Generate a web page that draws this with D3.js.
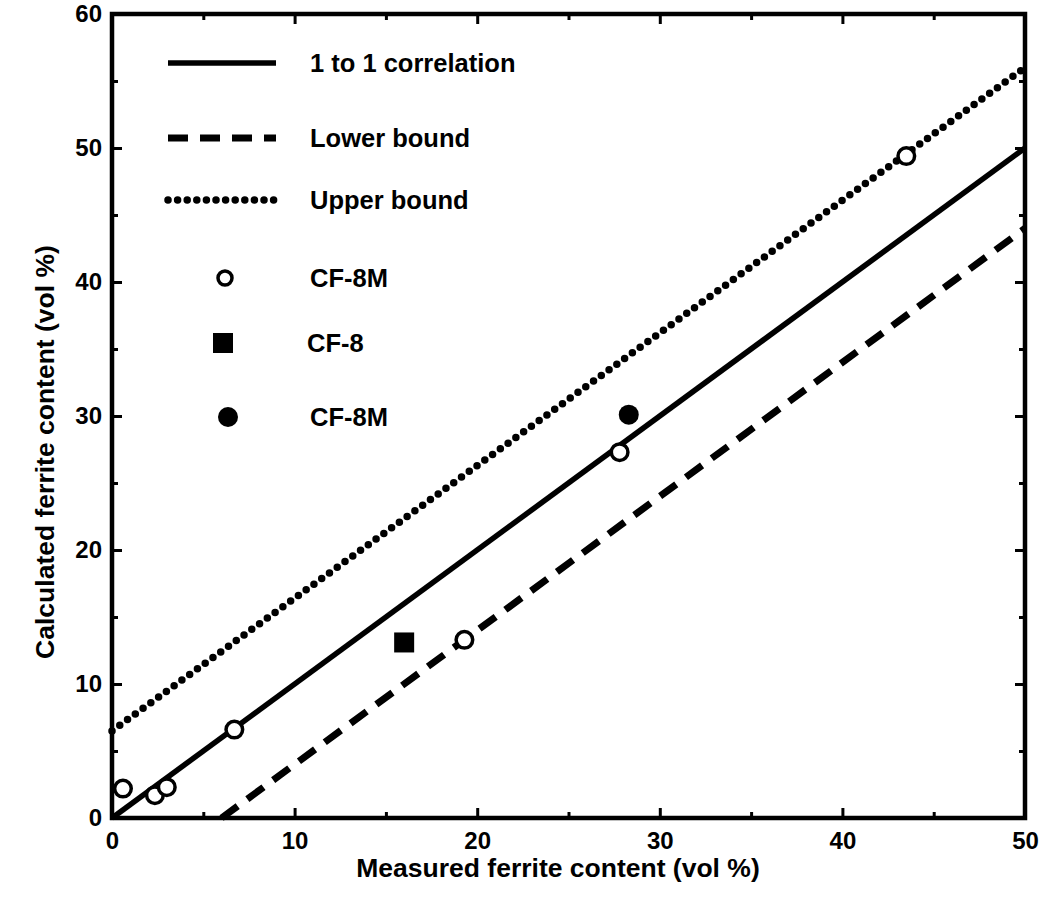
<!DOCTYPE html>
<html>
<head>
<meta charset="utf-8">
<script src="https://cdn.jsdelivr.net/npm/d3@7"></script>
<style>
  body { margin: 0; background: #fff; }
  svg text { font-family: "Liberation Sans", Arial, sans-serif; font-weight: bold; fill: #000; }
</style>
</head>
<body>
<div class="chart-wrapper"></div>
<script>
// data
const openX = [0.6, 2.35, 3.0, 6.7, 19.3, 27.8, 43.5];   // CF-8M open circles
const openY = [2.2, 1.7, 2.3, 6.6, 13.3, 27.3, 49.4];
const squareX = [16.0];                                  // CF-8
const squareY = [13.1];
const filledX = [28.3];                                  // CF-8M filled
const filledY = [30.1];

const corrLine = [[0, 0], [50, 50]];      // 1 to 1 correlation
const lowerLine = [[6.0, 0], [50, 44]];   // lower bound
const upperLine = [[0, 6.5], [50, 56]];   // upper bound

const xTicks = [0, 10, 20, 30, 40, 50];
const yTicks = [0, 10, 20, 30, 40, 50, 60];
const minorTicks = [5, 15, 25, 35, 45, 55];

const legendLines = ["1 to 1 correlation", "Lower bound", "Upper bound"];
const legendMarks = ["CF-8M", "CF-8", "CF-8M"];

// layout
const W = 1041, H = 898;
const margin = {top: 14, right: 16, bottom: 80, left: 112};
const iw = W - margin.left - margin.right;
const ih = H - margin.top - margin.bottom;

const svg = d3.select(".chart-wrapper").append("svg")
  .attr("width", W).attr("height", H);

const x = d3.scaleLinear().domain([0, 50]).range([0, iw]);
const y = d3.scaleLinear().domain([0, 60]).range([ih, 0]);

const g = svg.append("g").attr("transform", `translate(${margin.left},${margin.top})`);

const line = d3.line().x(d => x(d[0])).y(d => y(d[1]));

// bound lines
g.append("path").datum(upperLine).attr("d", line)
  .attr("fill", "none").attr("stroke", "#000").attr("stroke-width", 7.5)
  .attr("stroke-linecap", "round").attr("stroke-dasharray", "0 9.6");
g.append("path").datum(lowerLine).attr("d", line)
  .attr("fill", "none").attr("stroke", "#000").attr("stroke-width", 7)
  .attr("stroke-dasharray", "20 12");
g.append("path").datum(corrLine).attr("d", line)
  .attr("fill", "none").attr("stroke", "#000").attr("stroke-width", 5.5);

// axes, ticks inward on all four sides
const axisB = d3.axisBottom(x).tickValues(xTicks).tickSize(-10).tickPadding(14);
const axisL = d3.axisLeft(y).tickValues(yTicks).tickSize(-10).tickPadding(10);

g.append("g").attr("transform", `translate(0,${ih})`).call(axisB);
g.append("g").call(axisL);
g.append("g").call(d3.axisTop(x).tickValues(xTicks).tickSize(-10).tickFormat(""));
g.append("g").attr("transform", `translate(${iw},0)`)
  .call(d3.axisRight(y).tickValues(yTicks).tickSize(-10).tickFormat(""));
// minor ticks
g.append("g").attr("transform", `translate(0,${ih})`)
  .call(d3.axisBottom(x).tickValues(minorTicks.filter(v => v < 50)).tickSize(-6).tickFormat(""));
g.append("g").call(d3.axisTop(x).tickValues(minorTicks.filter(v => v < 50)).tickSize(-6).tickFormat(""));
g.append("g").call(d3.axisLeft(y).tickValues(minorTicks).tickSize(-6).tickFormat(""));
g.append("g").attr("transform", `translate(${iw},0)`)
  .call(d3.axisRight(y).tickValues(minorTicks).tickSize(-6).tickFormat(""));

g.selectAll(".domain").remove();
g.selectAll(".tick line").attr("stroke", "#000").attr("stroke-width", 3);
g.selectAll(".tick text").style("font-size", "24px");

// frame
g.append("rect").attr("width", iw).attr("height", ih)
  .attr("fill", "none").attr("stroke", "#000").attr("stroke-width", 4.5);

// points
g.selectAll(".sq").data(squareX).enter().append("rect")
  .attr("x", (d, i) => x(d) - 10).attr("y", (d, i) => y(squareY[i]) - 10)
  .attr("width", 20).attr("height", 20).attr("fill", "#000");
g.selectAll(".fc").data(filledX).enter().append("circle")
  .attr("cx", d => x(d)).attr("cy", (d, i) => y(filledY[i])).attr("r", 10).attr("fill", "#000");
g.selectAll(".oc").data(openX).enter().append("circle")
  .attr("cx", d => x(d)).attr("cy", (d, i) => y(openY[i])).attr("r", 8.3)
  .attr("fill", "#fff").attr("stroke", "#000").attr("stroke-width", 3.5);

// legend
const legG = svg.append("g");
const lineRowsY = [63, 138, 200];
const lineStyles = [
  {w: 5.5, dash: null, cap: "butt"},
  {w: 7, dash: "20 12", cap: "butt"},
  {w: 7.5, dash: "0 9.6", cap: "round"}
];
legendLines.forEach((name, i) => {
  legG.append("line").attr("x1", 168).attr("x2", 276)
    .attr("y1", lineRowsY[i]).attr("y2", lineRowsY[i])
    .attr("stroke", "#000").attr("stroke-width", lineStyles[i].w)
    .attr("stroke-linecap", lineStyles[i].cap)
    .attr("stroke-dasharray", lineStyles[i].dash);
  legG.append("text").attr("x", 310).attr("y", lineRowsY[i]).attr("dy", "0.35em")
    .style("font-size", "25.5px").text(name);
});

const markRowsY = [278, 343, 417];
legG.append("circle").attr("cx", 225).attr("cy", markRowsY[0]).attr("r", 7)
  .attr("fill", "#fff").attr("stroke", "#000").attr("stroke-width", 3.5);
legG.append("rect").attr("x", 213).attr("y", markRowsY[1] - 10)
  .attr("width", 20).attr("height", 20).attr("fill", "#000");
legG.append("circle").attr("cx", 228).attr("cy", markRowsY[2]).attr("r", 10).attr("fill", "#000");
legendMarks.forEach((name, i) => {
  legG.append("text").attr("x", i === 1 ? 307 : 310).attr("y", markRowsY[i]).attr("dy", "0.35em")
    .style("font-size", "25.5px").text(name);
});

// axis titles
svg.append("text")
  .attr("x", 558).attr("y", 877)
  .attr("text-anchor", "middle").style("font-size", "26.5px")
  .text("Measured ferrite content (vol %)");
svg.append("text")
  .attr("transform", "translate(54,452) rotate(-90)")
  .attr("text-anchor", "middle").style("font-size", "26.5px")
  .text("Calculated ferrite content (vol %)");
</script>
</body>
</html>
